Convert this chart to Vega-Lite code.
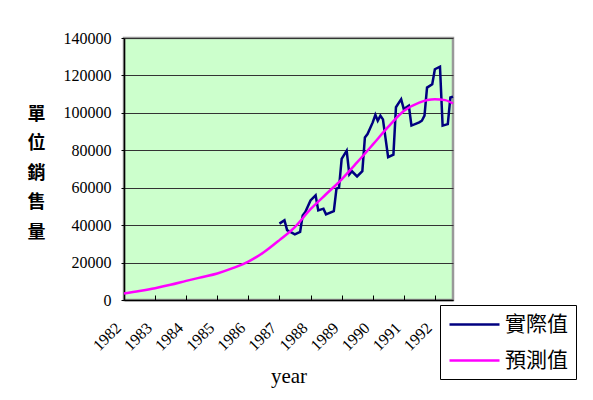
{
  "$schema": "https://vega.github.io/schema/vega-lite/v6.json",
  "width": 329,
  "height": 262,
  "autosize": "none",
  "padding": {"left": 124, "top": 38, "right": 140, "bottom": 100},
  "background": "white",
  "datasets": {
    "actual": [
      {"date": "1987-01-01", "series": "實際值", "sales": 40800},
      {"date": "1987-03-01", "series": "實際值", "sales": 42600},
      {"date": "1987-04-01", "series": "實際值", "sales": 37300},
      {"date": "1987-07-01", "series": "實際值", "sales": 35100},
      {"date": "1987-09-01", "series": "實際值", "sales": 36400},
      {"date": "1987-10-01", "series": "實際值", "sales": 45200},
      {"date": "1987-11-01", "series": "實際值", "sales": 47000},
      {"date": "1988-01-01", "series": "實際值", "sales": 53200},
      {"date": "1988-03-01", "series": "實際值", "sales": 55900},
      {"date": "1988-04-01", "series": "實際值", "sales": 47900},
      {"date": "1988-06-01", "series": "實際值", "sales": 48800},
      {"date": "1988-07-01", "series": "實際值", "sales": 45800},
      {"date": "1988-10-01", "series": "實際值", "sales": 47500},
      {"date": "1988-11-01", "series": "實際值", "sales": 59500},
      {"date": "1988-12-01", "series": "實際值", "sales": 60000},
      {"date": "1989-01-01", "series": "實際值", "sales": 75400},
      {"date": "1989-03-01", "series": "實際值", "sales": 79800},
      {"date": "1989-04-01", "series": "實際值", "sales": 67100},
      {"date": "1989-05-01", "series": "實際值", "sales": 68800},
      {"date": "1989-07-01", "series": "實際值", "sales": 66000},
      {"date": "1989-09-01", "series": "實際值", "sales": 68800},
      {"date": "1989-10-01", "series": "實際值", "sales": 86900},
      {"date": "1989-11-01", "series": "實際值", "sales": 88700},
      {"date": "1990-01-01", "series": "實際值", "sales": 94900},
      {"date": "1990-02-01", "series": "實際值", "sales": 99000},
      {"date": "1990-03-01", "series": "實際值", "sales": 95800},
      {"date": "1990-04-01", "series": "實際值", "sales": 98500},
      {"date": "1990-05-01", "series": "實際值", "sales": 96500},
      {"date": "1990-07-01", "series": "實際值", "sales": 76300},
      {"date": "1990-09-01", "series": "實際值", "sales": 77700},
      {"date": "1990-10-01", "series": "實際值", "sales": 103000},
      {"date": "1990-12-01", "series": "實際值", "sales": 107300},
      {"date": "1991-01-01", "series": "實際值", "sales": 102000},
      {"date": "1991-03-01", "series": "實際值", "sales": 103800},
      {"date": "1991-04-01", "series": "實際值", "sales": 93200},
      {"date": "1991-07-01", "series": "實際值", "sales": 94900},
      {"date": "1991-08-01", "series": "實際值", "sales": 95800},
      {"date": "1991-09-01", "series": "實際值", "sales": 98500},
      {"date": "1991-10-01", "series": "實際值", "sales": 113500},
      {"date": "1991-12-01", "series": "實際值", "sales": 115300},
      {"date": "1992-01-01", "series": "實際值", "sales": 123300},
      {"date": "1992-03-01", "series": "實際值", "sales": 124700},
      {"date": "1992-04-01", "series": "實際值", "sales": 93200},
      {"date": "1992-06-01", "series": "實際值", "sales": 94000},
      {"date": "1992-07-01", "series": "實際值", "sales": 108200},
      {"date": "1992-08-01", "series": "實際值", "sales": 108700}
    ],
    "forecast": [
      {"date": "1982-01-01", "series": "預測值", "sales": 3500},
      {"date": "1982-07-01", "series": "預測值", "sales": 4800},
      {"date": "1983-01-01", "series": "預測值", "sales": 6300},
      {"date": "1983-07-01", "series": "預測值", "sales": 8100},
      {"date": "1984-01-01", "series": "預測值", "sales": 10200},
      {"date": "1984-07-01", "series": "預測值", "sales": 12200},
      {"date": "1985-01-01", "series": "預測值", "sales": 14200},
      {"date": "1985-07-01", "series": "預測值", "sales": 17000},
      {"date": "1986-01-01", "series": "預測值", "sales": 20500},
      {"date": "1986-07-01", "series": "預測值", "sales": 25500},
      {"date": "1987-01-01", "series": "預測值", "sales": 32000},
      {"date": "1987-07-01", "series": "預測值", "sales": 39000},
      {"date": "1988-01-01", "series": "預測值", "sales": 48500},
      {"date": "1988-07-01", "series": "預測值", "sales": 56500},
      {"date": "1989-01-01", "series": "預測值", "sales": 64500},
      {"date": "1989-07-01", "series": "預測值", "sales": 73500},
      {"date": "1990-01-01", "series": "預測值", "sales": 83000},
      {"date": "1990-07-01", "series": "預測值", "sales": 92500},
      {"date": "1991-01-01", "series": "預測值", "sales": 101000},
      {"date": "1991-07-01", "series": "預測值", "sales": 105500},
      {"date": "1992-01-01", "series": "預測值", "sales": 107300},
      {"date": "1992-05-01", "series": "預測值", "sales": 106800},
      {"date": "1992-08-01", "series": "預測值", "sales": 105000}
    ]
  },
  "encoding": {
    "x": {
      "field": "date",
      "type": "temporal",
      "scale": {
        "type": "utc",
        "domain": [
          {"year": 1982, "month": 1, "date": 1, "utc": true},
          {"year": 1992, "month": 8, "date": 1, "utc": true}
        ]
      },
      "axis": {
        "title": "year",
        "format": "%Y",
        "values": [
          {"year": 1982, "month": 1, "date": 1, "utc": true},
          {"year": 1983, "month": 1, "date": 1, "utc": true},
          {"year": 1984, "month": 1, "date": 1, "utc": true},
          {"year": 1985, "month": 1, "date": 1, "utc": true},
          {"year": 1986, "month": 1, "date": 1, "utc": true},
          {"year": 1987, "month": 1, "date": 1, "utc": true},
          {"year": 1988, "month": 1, "date": 1, "utc": true},
          {"year": 1989, "month": 1, "date": 1, "utc": true},
          {"year": 1990, "month": 1, "date": 1, "utc": true},
          {"year": 1991, "month": 1, "date": 1, "utc": true},
          {"year": 1992, "month": 1, "date": 1, "utc": true}
        ],
        "grid": false,
        "domainColor": "black",
        "domainWidth": 1.5,
        "tickColor": "black",
        "tickSize": -5,
        "labelAngle": -45,
        "labelAlign": "right",
        "labelBaseline": "middle",
        "labelPadding": 30,
        "labelOffset": -6,
        "labelFont": "Liberation Serif",
        "labelFontSize": 16,
        "labelColor": "black",
        "labelFlush": false,
        "labelOverlap": false,
        "titleFont": "Liberation Serif",
        "titleFontSize": 21,
        "titleFontWeight": "normal",
        "titleColor": "black",
        "titleBaseline": "alphabetic",
        "titleY": 82
      }
    },
    "y": {
      "field": "sales",
      "type": "quantitative",
      "scale": {"domain": [0, 140000], "nice": false},
      "axis": {
        "title": ["單", "位", "銷", "售", "量"],
        "values": [0, 20000, 40000, 60000, 80000, 100000, 120000, 140000],
        "format": "d",
        "grid": true,
        "gridColor": "#333333",
        "gridWidth": 1,
        "domainColor": "black",
        "domainWidth": 1.5,
        "tickColor": "black",
        "tickSize": 3,
        "labelPadding": 10,
        "labelFont": "Liberation Serif",
        "labelFontSize": 16,
        "labelColor": "black",
        "labelFlush": false,
        "titleAngle": 0,
        "titleX": -88,
        "titleY": 67,
        "titleAlign": "center",
        "titleBaseline": "top",
        "titleLineHeight": 29.5,
        "titleFont": "Noto Sans CJK TC",
        "titleFontSize": 18,
        "titleFontWeight": "bold",
        "titleColor": "black"
      }
    },
    "color": {
      "field": "series",
      "type": "nominal",
      "scale": {"domain": ["實際值", "預測值"], "range": ["#000080", "#FF00FF"]},
      "legend": {
        "title": null,
        "orient": "none",
        "legendX": 316,
        "legendY": 267,
        "strokeColor": "black",
        "fillColor": "white",
        "padding": 8,
        "symbolType": "M-1,0H4",
        "symbolSize": 400,
        "symbolStrokeWidth": 2.5,
        "symbolFillColor": "transparent",
        "labelFont": "Noto Sans CJK TC",
        "labelFontSize": 21,
        "labelColor": "black",
        "labelOffset": 34,
        "rowPadding": 14
      }
    }
  },
  "layer": [
    {
      "data": {"name": "actual", "format": {"parse": {"date": "utc:'%Y-%m-%d'"}}},
      "mark": {"type": "line", "strokeWidth": 2.5}
    },
    {
      "data": {"name": "forecast", "format": {"parse": {"date": "utc:'%Y-%m-%d'"}}},
      "mark": {"type": "line", "strokeWidth": 2.5, "interpolate": "monotone"}
    }
  ],
  "config": {
    "view": {"fill": "#CCFFCC", "stroke": "#999999", "strokeWidth": 2.5}
  }
}
